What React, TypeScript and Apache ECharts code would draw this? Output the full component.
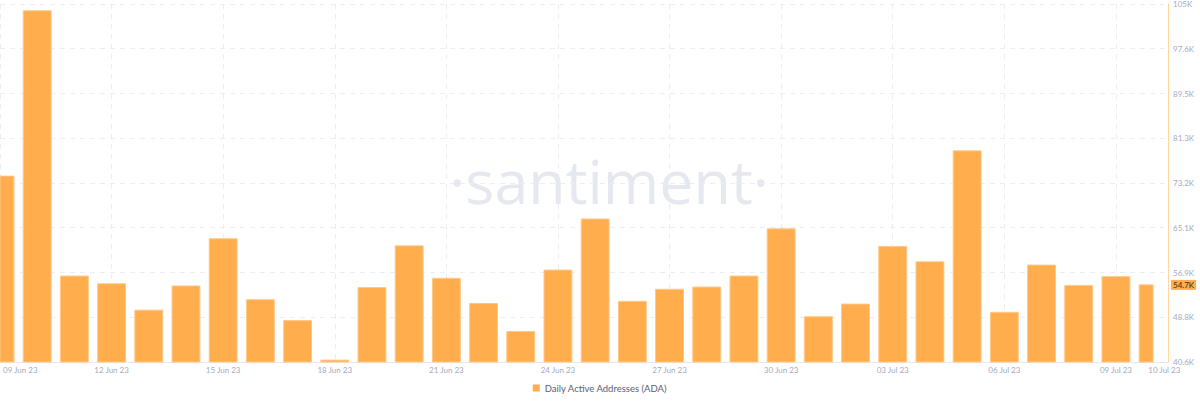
import React, { useEffect, useRef } from "react";
import * as echarts from "echarts";

const dates = [
  "09 Jun 23", "10 Jun 23", "11 Jun 23", "12 Jun 23", "13 Jun 23", "14 Jun 23", "15 Jun 23", "16 Jun 23",
  "17 Jun 23", "18 Jun 23", "19 Jun 23", "20 Jun 23", "21 Jun 23", "22 Jun 23", "23 Jun 23", "24 Jun 23",
  "25 Jun 23", "26 Jun 23", "27 Jun 23", "28 Jun 23", "29 Jun 23", "30 Jun 23", "01 Jul 23", "02 Jul 23",
  "03 Jul 23", "04 Jul 23", "05 Jul 23", "06 Jul 23", "07 Jul 23", "08 Jul 23", "09 Jul 23", "10 Jul 23",
];

const activeAddresses = [
  74500, 104600, 56300, 54900, 50100, 54500, 63100, 52000,
  48200, 41000, 54200, 61800, 55900, 51300, 46200, 57400,
  66700, 51700, 53900, 54300, 56300, 64900, 48900, 51200,
  61700, 58900, 79100, 49700, 58300, 54600, 56200, 54700,
];

const Y_MIN = 40657;
const Y_MAX = 105837;
const yTickValues = [40657, 48805, 56952, 65100, 73247, 81395, 89542, 97690, 105837];
const yTickLabels = ["40.6K", "48.8K", "56.9K", "65.1K", "73.2K", "81.3K", "89.5K", "97.6K", "105K"];

const X_MAX = 31.4;
const xGridIndexes = [0, 3, 6, 9, 12, 15, 18, 21, 24, 27, 30];
const xLabelPositions = [0, 3, 6, 9, 12, 15, 18, 21, 24, 27, 30, 31.3];

const lastValueLabel = "54.7K";
const seriesName = "Daily Active Addresses (ADA)";

const BAR_COLOR = "#FFAD4D";
const AXIS_TEXT = "#a3aabf";

export default function App() {
  const ref = useRef<HTMLDivElement>(null);

  useEffect(() => {
    if (!ref.current) return;
    const chart = echarts.init(ref.current, null, { renderer: "svg" });
    const data = activeAddresses.map((v, i) => [i, v]);
    const lastIndex = activeAddresses.length - 1;

    chart.setOption({
      animation: false,
      backgroundColor: "#ffffff",
      textStyle: { fontFamily: "Lato, 'Open Sans', sans-serif" },
      grid: { left: 0, right: 32, top: 4, bottom: 44, containLabel: false, outerBoundsMode: "none" },
      graphic: [
        {
          type: "text",
          silent: true,
          z: -10,
          x: 609,
          y: 180,
          style: {
            text: "·santiment·",
            fill: "#e6e8f0",
            font: "400 61px 'Open Sans', sans-serif",
            align: "center",
            verticalAlign: "middle",
          },
        },
      ],
      legend: {
        bottom: 8,
        left: "center",
        icon: "rect",
        itemWidth: 7,
        itemHeight: 7,
        itemGap: 8,
        textStyle: { fontSize: 9.5, color: "#5c6072", fontFamily: "Lato, sans-serif" },
        data: [seriesName],
      },
      xAxis: {
        type: "value",
        min: 0,
        max: X_MAX,
        axisLine: { show: true, onZero: false, lineStyle: { color: "#e6e8ee", width: 1 } },
        axisTick: { show: false, customValues: xGridIndexes },
        splitLine: { show: true, lineStyle: { color: "#ebedf2", type: [5, 5], width: 1 } },
        axisLabel: {
          customValues: xLabelPositions,
          alignMinLabel: "left",
          color: AXIS_TEXT,
          fontSize: 8,
          margin: 4,
          formatter: (v: number) => {
            const i = Math.round(v);
            const text = dates[i] ?? "";
            return i === 0 ? `{first|${text}}` : text;
          },
          rich: {
            first: { color: AXIS_TEXT, fontSize: 8, padding: [0, 0, 0, 3] },
          },
        },
      },
      yAxis: {
        type: "value",
        position: "right",
        min: Y_MIN,
        max: Y_MAX,
        axisLine: { show: true, onZero: false, lineStyle: { color: "#ffd6a0", width: 1 } },
        axisTick: { show: false, customValues: yTickValues },
        splitLine: { show: true, lineStyle: { color: "#ebedf2", type: [5, 5], width: 1 } },
        axisLabel: {
          customValues: yTickValues,
          color: AXIS_TEXT,
          fontSize: 8,
          margin: 5,
          formatter: (v: number) => {
            let best = 0;
            yTickValues.forEach((t, i) => {
              if (Math.abs(t - v) < Math.abs(yTickValues[best] - v)) best = i;
            });
            return yTickLabels[best];
          },
        },
      },
      series: [
        {
          name: seriesName,
          type: "custom",
          itemStyle: { color: BAR_COLOR },
          data,
          encode: { x: 0, y: 1 },
          renderItem: (params: any, api: any) => {
            const x = api.value(0);
            const y = api.value(1);
            const top = api.coord([x, y]);
            const base = api.coord([x, Y_MIN]);
            const w = api.size([1, 0])[0] * 0.75;
            const partial = params.dataIndex === lastIndex;
            const rect = {
              x: top[0] - w / 2,
              y: top[1],
              width: partial ? w / 2 : w,
              height: base[1] - top[1],
            };
            const cs = params.coordSys;
            const clipped = echarts.graphic.clipRectByRect(rect, {
              x: cs.x,
              y: cs.y,
              width: cs.width,
              height: cs.height,
            });
            if (!clipped) return null;
            return {
              type: "rect",
              shape: clipped,
              style: { fill: BAR_COLOR, stroke: "#ffc888", lineWidth: 1 },
            };
          },
          markLine: {
            silent: true,
            symbol: "none",
            lineStyle: { color: "rgba(0,0,0,0)", width: 0 },
            data: [{ yAxis: activeAddresses[lastIndex] }],
            label: {
              position: "end",
              formatter: lastValueLabel,
              backgroundColor: BAR_COLOR,
              color: "#3a2a14",
              fontSize: 8,
              padding: [1, 2, 1, 2],
              distance: 3,
            },
          },
        },
      ],
    });

    return () => chart.dispose();
  }, []);

  return (
    <div
      ref={ref}
      style={{ position: "fixed", left: 0, top: 0, width: 1200, height: 406, background: "#fff" }}
    />
  );
}
